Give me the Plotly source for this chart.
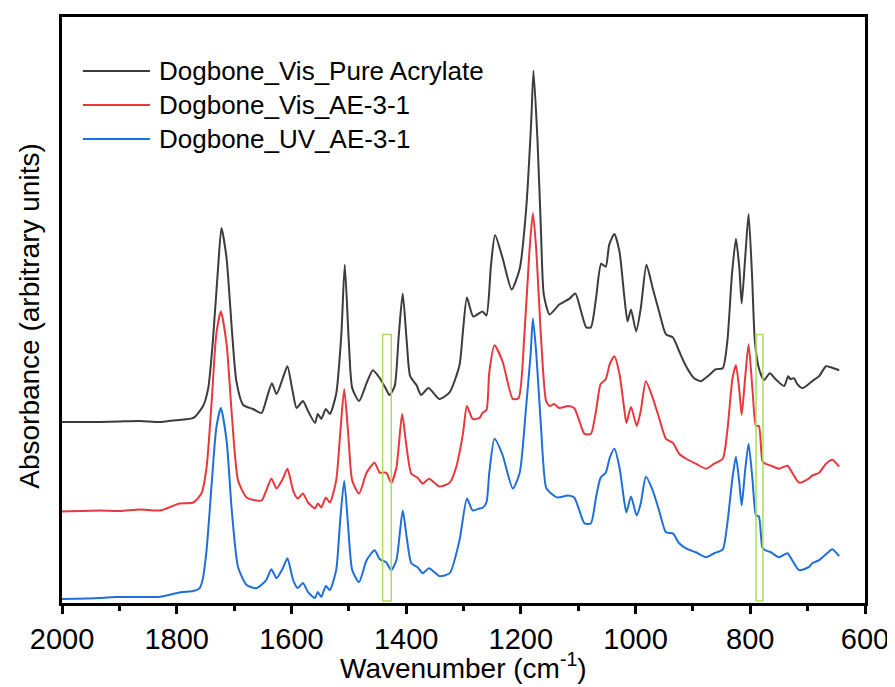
import plotly.graph_objects as go

# ---------------- data ----------------
series_names = ["Dogbone_Vis_Pure Acrylate", "Dogbone_Vis_AE-3-1", "Dogbone_UV_AE-3-1"]
series_colors = ["#3c3c3c", "#e8383d", "#1f6fd8"]

wn_pure = [2000,1934,1899,1864,1829,1807,1795,1771,1754,1745,1737,1728,1722,1713,1704,1696,1684,1667,1652,1643,
           1634,1626,1615,1607,1598,1591,1580,1571,1559,1554,1548,1540,1533,1522,1513,1507,1500,1494,1482,1469,
           1458,1446,1435,1429,1420,1413,1406,1399,1393,1382,1374,1361,1342,1324,1307,1301,1294,1283,1267,1260,
           1252,1245,1232,1216,1202,1191,1182,1178,1171,1165,1160,1150,1133,1115,1105,1095,1086,1078,1069,1060,
           1052,1046,1037,1028,1020,1014,1008,999,991,981,970,959,947,935,924,912,898,886,872,860,
           848,840,832,825,819,815,809,803,797,792,785,776,766,756,741,734,730,724,718,709,
           692,680,668,660,645]
abs_pure = [1.82,1.82,1.825,1.83,1.82,1.835,1.84,1.86,1.98,2.16,2.63,3.36,3.77,3.46,2.76,2.23,1.99,1.95,1.91,2.06,
            2.21,2.10,2.26,2.38,2.13,1.96,2.03,1.93,1.81,1.90,1.85,1.95,1.90,2.10,2.70,3.40,2.63,2.16,2.03,2.21,
            2.34,2.26,2.15,2.09,2.18,2.68,3.11,2.63,2.28,2.19,2.09,2.16,2.05,2.12,2.39,2.73,3.07,2.88,2.93,2.89,
            3.40,3.70,3.47,3.15,3.36,3.94,4.83,5.35,4.65,3.75,3.10,2.90,3.00,3.06,3.11,2.93,2.77,2.77,3.06,3.41,
            3.38,3.60,3.71,3.53,3.10,2.83,2.95,2.73,2.96,3.40,3.16,2.93,2.70,2.67,2.53,2.38,2.26,2.23,2.29,2.35,
            2.36,2.63,3.30,3.66,3.36,3.01,3.46,3.91,3.30,2.63,2.36,2.24,2.31,2.25,2.18,2.28,2.25,2.26,2.20,2.16,
            2.23,2.28,2.38,2.37,2.34]

wn_vis = [2000,1934,1899,1864,1829,1795,1771,1757,1748,1739,1731,1723,1713,1704,1693,1678,1661,1652,1644,1635,
          1626,1615,1607,1597,1589,1580,1571,1559,1554,1548,1540,1533,1522,1515,1508,1501,1494,1482,1469,1455,
          1446,1435,1426,1417,1407,1400,1391,1380,1371,1360,1342,1324,1313,1301,1294,1284,1272,1267,1260,1255,
          1246,1232,1214,1204,1194,1185,1179,1173,1165,1156,1150,1142,1133,1118,1107,1098,1089,1078,1069,1061,
          1052,1045,1037,1028,1020,1016,1008,998,991,982,970,959,947,935,924,912,895,877,863,848,
          840,831,825,819,815,809,803,796,790,785,779,774,764,750,735,727,715,698,692,680,
          668,657,645]
abs_vis = [0.92,0.93,0.925,0.94,0.93,1.00,1.01,1.10,1.36,2.03,2.70,2.93,2.60,1.90,1.23,1.06,1.03,1.03,1.13,1.25,
           1.15,1.25,1.35,1.13,1.05,1.10,1.01,0.95,1.00,0.96,1.06,1.01,1.23,1.70,2.15,1.70,1.23,1.10,1.31,1.41,
           1.31,1.31,1.21,1.36,1.90,1.60,1.30,1.26,1.20,1.25,1.17,1.21,1.36,1.70,1.98,1.85,1.86,1.91,1.94,2.32,
           2.59,2.43,2.05,2.06,2.68,3.54,3.92,3.54,2.68,2.03,1.98,2.00,1.96,1.98,1.96,1.83,1.70,1.70,1.93,2.20,
           2.25,2.40,2.48,2.30,1.96,1.81,1.97,1.78,1.93,2.23,2.06,1.86,1.65,1.61,1.50,1.45,1.40,1.35,1.40,1.45,
           1.73,2.26,2.39,2.13,1.89,2.26,2.60,2.13,1.78,1.78,1.43,1.40,1.38,1.35,1.38,1.31,1.21,1.25,1.28,1.31,
           1.40,1.44,1.37]

wn_uv = [2000,1934,1907,1864,1829,1807,1791,1771,1760,1755,1748,1739,1731,1723,1713,1704,1693,1678,1661,1644,
         1635,1626,1615,1607,1597,1589,1580,1571,1559,1554,1548,1540,1533,1522,1515,1508,1501,1494,1482,1469,
         1455,1446,1435,1426,1417,1406,1399,1391,1380,1371,1360,1342,1324,1307,1294,1284,1272,1267,1260,1255,
         1246,1232,1214,1202,1191,1183,1179,1173,1165,1156,1147,1136,1118,1107,1098,1089,1078,1069,1061,1052,
         1045,1037,1028,1020,1016,1008,998,991,982,970,959,947,935,924,912,895,877,863,848,840,
         831,825,819,815,809,803,796,790,785,779,774,764,750,735,727,715,698,692,680,666,
         657,645]
abs_uv = [0.04,0.05,0.06,0.06,0.063,0.09,0.11,0.12,0.15,0.23,0.53,1.20,1.76,1.96,1.63,0.93,0.36,0.18,0.15,0.23,
          0.34,0.25,0.35,0.45,0.23,0.15,0.20,0.11,0.05,0.11,0.06,0.17,0.13,0.33,0.83,1.23,0.76,0.33,0.21,0.43,
          0.53,0.44,0.41,0.33,0.43,0.93,0.66,0.40,0.36,0.30,0.35,0.27,0.30,0.63,1.05,0.93,0.95,0.955,1.01,1.31,
          1.65,1.49,1.15,1.31,1.96,2.50,2.86,2.50,1.78,1.16,1.10,1.06,1.08,1.06,0.93,0.80,0.80,1.06,1.26,1.31,
          1.46,1.55,1.36,1.03,0.91,1.07,0.88,1.00,1.27,1.13,0.93,0.71,0.70,0.60,0.55,0.51,0.46,0.50,0.54,0.80,
          1.26,1.47,1.20,0.98,1.33,1.60,1.23,0.88,0.87,0.56,0.53,0.51,0.46,0.50,0.43,0.33,0.36,0.40,0.43,0.50,
          0.54,0.47]

# highlighted wavenumber windows (green boxes)
highlight_windows = [(1441, 1426), (790, 778)]
highlight_height = 2.70

x_range = [2000, 600]
y_range = [0, 5.89]

x_title = "Wavenumber (cm<sup>-1</sup>)"
y_title = "Absorbance (arbitrary units)"

assert len(wn_pure) == len(abs_pure)
assert len(wn_vis) == len(abs_vis)
assert len(wn_uv) == len(abs_uv)

FONT = "Liberation Sans, Arial, Helvetica, sans-serif"

fig = go.Figure()
for name, color, xs, ys in zip(series_names, series_colors,
                               [wn_pure, wn_vis, wn_uv], [abs_pure, abs_vis, abs_uv]):
    fig.add_trace(go.Scatter(x=xs, y=ys, mode="lines", name=name,
                             line=dict(color=color, width=2, shape="spline", smoothing=0.6),
                             showlegend=False))

for x0, x1 in highlight_windows:
    fig.add_shape(type="rect", xref="x", yref="y", x0=x0, x1=x1, y0=0.02, y1=highlight_height,
                  line=dict(color="#a8e05f", width=1.5), fillcolor="rgba(0,0,0,0)", layer="above")

# legend drawn as lines + text in the upper-left corner
legend_rows = [0.908, 0.850, 0.792]
for name, color, yp in zip(series_names, series_colors, legend_rows):
    fig.add_shape(type="line", xref="paper", yref="paper", x0=0.026, x1=0.1095, y0=yp, y1=yp,
                  line=dict(color=color, width=2))
    fig.add_annotation(xref="paper", yref="paper", x=0.118, y=yp, text=name, showarrow=False,
                       xanchor="left", yanchor="middle", font=dict(family=FONT, size=26, color="black"))

# axis titles
fig.add_annotation(xref="paper", yref="paper", x=0.5, y=-0.107, text=x_title, showarrow=False,
                   xanchor="center", yanchor="middle", font=dict(family=FONT, size=28, color="black"))
fig.add_annotation(xref="paper", yref="paper", x=-0.040, y=0.49, text=y_title, showarrow=False,
                   textangle=-90, xanchor="center", yanchor="middle",
                   font=dict(family=FONT, size=28, color="black"))

fig.update_layout(
    width=887, height=679,
    margin=dict(l=54, r=29, t=6, b=84),
    paper_bgcolor="white", plot_bgcolor="white",
    font=dict(family=FONT, color="black"),
    xaxis=dict(range=x_range, dtick=200, tick0=0, ticks="outside", ticklen=8, tickwidth=2.5,
               tickcolor="black", showline=True, linewidth=3, linecolor="black", mirror=True,
               showgrid=False, zeroline=False, tickfont=dict(size=29, family=FONT, color="black"),
               minor=dict(dtick=100, tick0=0, ticks="outside", ticklen=5, tickwidth=2.5, tickcolor="black",
                          showgrid=False)),
    yaxis=dict(range=y_range, showticklabels=False, ticks="", showline=True, linewidth=3,
               linecolor="black", mirror=True, showgrid=False, zeroline=False),
)

fig.write_html("out.html")
